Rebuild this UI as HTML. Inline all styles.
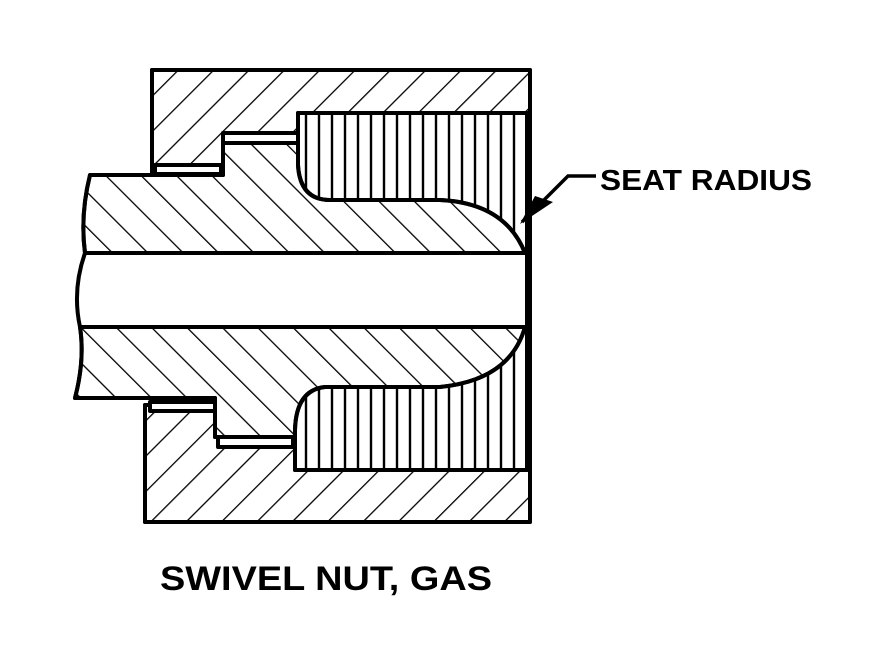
<!DOCTYPE html>
<html><head><meta charset="utf-8"><style>
html,body{margin:0;padding:0;background:#fff;}
svg{display:block;}
</style></head><body>
<svg width="885" height="662" viewBox="0 0 885 662" xmlns="http://www.w3.org/2000/svg">
<defs>
<pattern id="fw" width="25" height="25" patternUnits="userSpaceOnUse" patternTransform="rotate(45)">
<line x1="0" y1="0" x2="0" y2="25" stroke="#000" stroke-width="2.6"/>
</pattern>
<pattern id="bk" width="25" height="25" patternUnits="userSpaceOnUse" patternTransform="rotate(-45)">
<line x1="0" y1="0" x2="0" y2="25" stroke="#000" stroke-width="2.6"/>
</pattern>
<pattern id="vt" width="26" height="200" patternUnits="userSpaceOnUse" x="300" y="0">
<line x1="6" y1="0" x2="6" y2="200" stroke="#000" stroke-width="2.4"/>
<line x1="19" y1="0" x2="19" y2="200" stroke="#000" stroke-width="2.4"/>
</pattern>
</defs>
<g stroke="#000" stroke-width="4" stroke-linejoin="round">
<path d="M152,70 L530,70 L530,522 L145,522 L145,405 L152,405 L152,170 Z" fill="#fff"/>
<path d="M152,70 L530,70 L530,522 L145,522 L145,405 L152,405 L152,170 Z" fill="url(#fw)"/>
<rect x="298" y="113" width="229" height="150" fill="#fff"/>
<rect x="298" y="113" width="229" height="150" fill="url(#vt)"/>
<rect x="295" y="325" width="232" height="145" fill="#fff"/>
<rect x="295" y="325" width="232" height="145" fill="url(#vt)"/>
<path d="M90,175 L223,175 L223,143 L298,143 L298,165 Q300,200 330,200 L440,200 Q505,203 525,253 L85,253 Q80,215 90,175 Z" fill="#fff"/>
<path d="M90,175 L223,175 L223,143 L298,143 L298,165 Q300,200 330,200 L440,200 Q505,203 525,253 L85,253 Q80,215 90,175 Z" fill="url(#bk)"/>
<path d="M80,327 L525,327 Q510,380 440,387 L325,387 Q296,390 295,430 L295,437 L215,437 L215,398 L75,398 Q85,360 80,327 Z" fill="#fff"/>
<path d="M80,327 L525,327 Q510,380 440,387 L325,387 Q296,390 295,430 L295,437 L215,437 L215,398 L75,398 Q85,360 80,327 Z" fill="url(#bk)"/>
<path d="M85,253 L527,253 L527,327 L80,327 Q72,290 85,253 Z" fill="#fff"/>
<rect x="223" y="133" width="75" height="10" fill="#fff"/>
<rect x="155" y="165" width="66" height="9" fill="#fff"/>
<rect x="150" y="402" width="65" height="9" fill="#fff"/>
<rect x="218" y="437" width="75" height="10" fill="#fff"/>
</g>
<polyline points="596,176 568,176 522,222" fill="none" stroke="#000" stroke-width="3.5"/>
<polygon points="520,224 535,196 553,202" fill="#000"/>
<text x="600" y="190" font-family="Liberation Sans, sans-serif" font-weight="bold" font-size="29" textLength="212" lengthAdjust="spacingAndGlyphs">SEAT RADIUS</text>
<text x="160" y="590" font-family="Liberation Sans, sans-serif" font-weight="bold" font-size="34" textLength="332" lengthAdjust="spacingAndGlyphs">SWIVEL NUT, GAS</text>
</svg>
</body></html>
